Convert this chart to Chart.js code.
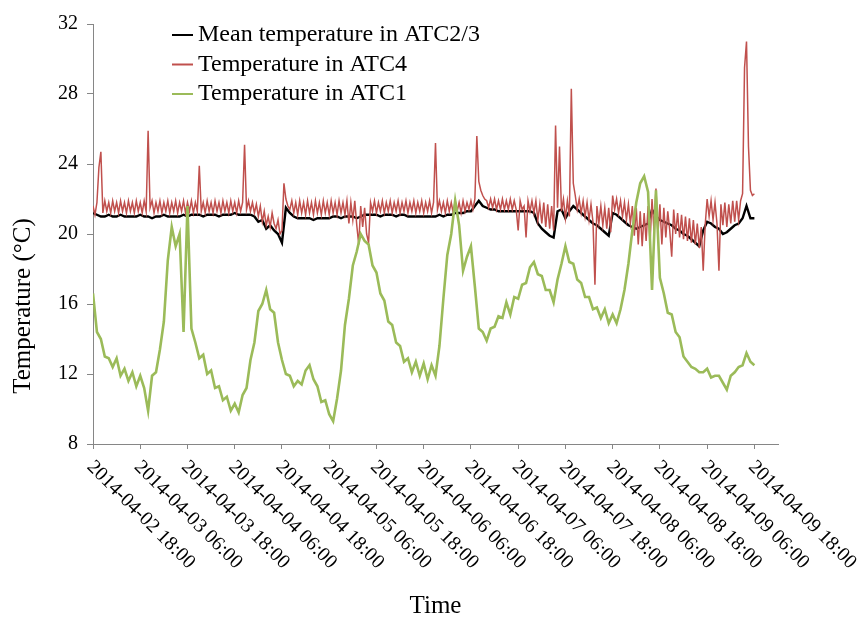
<!DOCTYPE html>
<html>
<head>
<meta charset="utf-8">
<script src="https://cdn.jsdelivr.net/npm/chart.js@4.4.1/dist/chart.umd.min.js"></script>
<style>
html,body{margin:0;padding:0;background:#fff;}
#wrap{width:859px;height:617px;}
</style>
</head>
<body>
<div id="wrap"><canvas id="c" width="859" height="617"></canvas></div>
<script>
// ---------------- data ----------------
const seriesLabels = ['Mean temperature in ATC2/3', 'Temperature in ATC4', 'Temperature in ATC1'];
const seriesColors = ['#000000', '#c0504d', '#9bbb59'];
const xTitle = 'Time';
const yTitle = 'Temperature (\u00B0C)';

const xTickLabels = [
  '2014-04-02 18:00', '2014-04-03 06:00', '2014-04-03 18:00', '2014-04-04 06:00',
  '2014-04-04 18:00', '2014-04-05 06:00', '2014-04-05 18:00', '2014-04-06 06:00',
  '2014-04-06 18:00', '2014-04-07 06:00', '2014-04-07 18:00', '2014-04-08 06:00',
  '2014-04-08 18:00', '2014-04-09 06:00', '2014-04-09 18:00'
];
const tickStepHours = 12;
const axisMaxHours = 174;
const yMin = 8, yMax = 32, yStep = 4;

// Mean temperature in ATC2/3, hourly samples (hours since 2014-04-02 18:00)
const atc23StepHours = 1;
const atc23Temp = [
  21.2, 21.1, 21.0, 21.0, 21.1, 21.0, 21.0, 21.1, 21.0, 21.0,
  21.0, 21.0, 21.1, 21.0, 21.0, 20.9, 21.0, 21.0, 21.1, 21.0,
  21.0, 21.0, 21.0, 21.1, 21.0, 21.1, 21.1, 21.1, 21.0, 21.1,
  21.1, 21.1, 21.0, 21.1, 21.1, 21.1, 21.2, 21.1, 21.1, 21.1,
  21.1, 21.0, 20.7, 20.8, 20.3, 20.5, 20.2, 20.0, 19.5, 21.5,
  21.2, 21.0, 20.9, 20.9, 20.9, 20.9, 20.8, 20.9, 20.9, 20.9,
  20.9, 21.0, 21.0, 20.9, 21.0, 21.0, 21.0, 20.9, 21.0, 21.1,
  21.1, 21.1, 21.1, 21.0, 21.1, 21.1, 21.1, 21.0, 21.1, 21.1,
  21.0, 21.0, 21.0, 21.0, 21.0, 21.0, 21.0, 21.0, 21.1, 21.0,
  21.1, 21.1, 21.2, 21.2, 21.2, 21.3, 21.3, 21.6, 21.9, 21.6,
  21.5, 21.4, 21.4, 21.3, 21.3, 21.3, 21.3, 21.3, 21.3, 21.3,
  21.3, 21.3, 21.2, 20.6, 20.3, 20.1, 19.9, 19.8, 21.3, 21.4,
  20.9, 21.3, 21.6, 21.4, 21.2, 21.0, 20.8, 20.6, 20.5, 20.3,
  20.1, 19.9, 21.2, 21.1, 20.9, 20.7, 20.5, 20.4, 20.3, 20.4,
  20.5, 20.6, 21.4, 21.0, 20.8, 20.7, 20.6, 20.5, 20.3, 20.2,
  20.0, 19.9, 19.7, 19.5, 19.3, 20.2, 20.7, 20.6, 20.4, 20.3,
  20.0, 20.1, 20.3, 20.5, 20.6, 20.9, 21.6, 20.9, 20.9
];

// Temperature in ATC4, half-hourly samples
const atc4StepHours = 0.5;
const atc4Temp = [
  21.6, 21.1, 21.8,  23.8, 24.7, 21.2,  21.9, 21.3, 21.8,  21.2, 21.9, 21.3,
  21.8, 21.2, 21.9,  21.3, 21.8, 21.2,  21.9, 21.3, 21.8,  21.2, 21.9, 21.3,
  21.8, 21.2, 21.9,  21.3, 25.9, 21.5,  21.9, 21.2, 21.8,  21.3, 21.9, 21.2,
  21.8, 21.3, 21.9,  21.2, 21.8, 21.3,  21.9, 21.2, 21.8,  21.3, 21.9, 21.2,
  21.8, 21.3, 21.9,  21.2, 21.8, 21.3,  23.9, 21.3, 21.8,  21.2, 21.9, 21.3,
  21.8, 21.2, 21.9,  21.3, 21.8, 21.2,  21.9, 21.3, 21.8,  21.2, 21.9, 21.3,
  21.8, 21.2, 21.9,  21.3, 21.8, 25.1,  21.4, 21.9, 21.3,  21.8, 21.2, 21.7,
  21.0, 21.6, 20.7,  21.3, 20.5, 21.0,  20.4, 21.2, 20.6,  20.3, 20.8, 20.0,
  20.2, 22.9, 22.0,  21.6, 21.4, 21.9,  21.2, 21.8, 21.1,  21.9, 21.2, 21.8,
  21.1, 21.9, 21.2,  21.8, 21.1, 21.9,  21.2, 21.8, 21.1,  21.9, 21.2, 21.8,
  21.1, 21.9, 21.2,  21.8, 21.1, 21.9,  21.2, 21.8, 21.1,  21.9, 20.6, 21.8,
  20.8, 21.9, 20.5,  19.4, 21.6, 20.4,  21.5, 20.0, 19.5,  21.8, 21.3, 21.9,
  21.2, 21.8, 21.3,  21.9, 21.2, 21.8,  21.3, 21.9, 21.2,  21.8, 21.3, 21.9,
  21.2, 21.8, 21.3,  21.9, 21.2, 21.8,  21.3, 21.9, 21.2,  21.8, 21.3, 21.9,
  21.2, 21.8, 21.3,  21.9, 21.2, 21.8,  25.2, 21.4, 21.9,  21.3, 21.8, 21.2,
  21.9, 21.3, 21.8,  21.2, 21.9, 21.3,  21.8, 21.2, 21.9,  21.3, 21.8, 21.4,
  21.9, 21.4, 22.0,  25.6, 23.0, 22.5,  22.2, 22.0, 21.9,  21.5, 22.0, 21.5,
  22.0, 21.4, 21.9,  21.4, 22.0, 21.4,  21.9, 21.4, 22.0,  21.4, 21.9, 21.4,
  20.2, 21.9, 21.4,  21.6, 19.8, 21.9,  21.3, 21.9, 21.2,  21.9, 20.8, 21.7,
  20.6, 21.8, 20.4,  21.7, 20.3, 21.6,  20.2, 26.2, 21.5,  25.0, 21.3, 22.0,
  20.9, 21.9, 21.0,  28.3, 22.9, 22.2,  21.4, 22.0, 21.2,  21.9, 21.0, 21.8,
  20.8, 21.7, 20.7,  17.1, 21.6, 20.6,  21.6, 20.5, 21.5,  20.3, 21.5, 20.1,
  22.2, 21.4, 22.0,  21.2, 21.9, 21.0,  21.8, 20.8, 21.7,  20.6, 21.6, 19.9,
  21.5, 19.4, 21.3,  19.3, 21.2, 19.6,  21.6, 19.5, 22.0,  20.2, 22.6, 20.0,
  21.7, 19.4, 21.5,  19.8, 21.3, 20.2,  18.7, 21.4, 20.0,  21.2, 19.8, 21.1,
  19.7, 21.0, 19.6,  20.9, 19.5, 20.8,  19.4, 20.6, 19.2,  20.4, 17.9, 20.5,
  22.0, 21.0, 21.9,  20.8, 21.8, 20.6,  17.9, 21.7, 20.5,  21.8, 20.4, 21.7,
  20.6, 21.9, 20.7,  21.9, 20.8, 21.9,  22.3, 29.5, 31.0,  25.0, 22.5, 22.2,
  22.3
];

// Temperature in ATC1, hourly samples (noisy sensor)
const atc1StepHours = 1;
const atc1Temp = [
  16.6, 14.4, 14.0, 13.0, 12.9, 12.4, 12.9, 11.9, 12.3, 11.6,
  12.1, 11.3, 11.9, 11.2, 9.9, 11.9, 12.1, 13.4, 15.0, 18.5,
  20.4, 19.3, 20.0, 14.4, 21.6, 14.6, 13.8, 12.9, 13.1, 12.0,
  12.2, 11.2, 11.3, 10.5, 10.7, 9.9, 10.3, 9.8, 10.8, 11.2,
  12.8, 13.8, 15.6, 16.0, 16.8, 15.7, 15.5, 13.8, 12.8, 12.0,
  11.9, 11.3, 11.6, 11.4, 12.2, 12.5, 11.7, 11.3, 10.4, 10.5,
  9.7, 9.3, 10.6, 12.2, 14.8, 16.3, 18.2, 19.0, 20.0, 19.6,
  19.4, 18.2, 17.8, 16.6, 16.2, 15.0, 14.8, 13.8, 13.6, 12.7,
  12.9, 12.1, 12.7, 11.9, 12.6, 11.7, 12.5, 11.9, 13.6, 16.3,
  18.8, 20.0, 21.9, 20.5, 17.9, 18.7, 19.3, 17.0, 14.6, 14.4,
  13.9, 14.6, 14.7, 15.3, 15.2, 16.1, 15.4, 16.4, 16.3, 17.1,
  17.2, 18.1, 18.4, 17.7, 17.6, 16.8, 16.8, 16.1, 17.4, 18.3,
  19.3, 18.4, 18.3, 17.4, 17.2, 16.4, 16.4, 15.7, 15.8, 15.2,
  15.7, 14.9, 15.4, 14.9, 15.7, 16.8, 18.3, 20.2, 21.8, 22.9,
  23.3, 22.4, 16.8, 22.5, 17.5, 16.6, 15.5, 15.4, 14.4, 14.1,
  13.0, 12.7, 12.4, 12.3, 12.1, 12.1, 12.3, 11.8, 11.9, 11.9,
  11.5, 11.1, 11.9, 12.1, 12.4, 12.5, 13.2, 12.7, 12.5
];

// ---------------- build ----------------
function toPoints(values, step) {
  return values.map((v, i) => ({ x: i * step, y: v }));
}

const FONT = '"Liberation Serif", "Times New Roman", serif';
Chart.defaults.font.family = FONT;
Chart.defaults.color = '#000';

const overlayPlugin = {
  id: 'overlay',
  afterDraw(chart) {
    const { ctx, chartArea, scales } = chart;
    const xs = scales.x;
    ctx.save();
    ctx.fillStyle = '#000';
    // rotated x tick labels
    ctx.font = '20px ' + FONT;
    ctx.textAlign = 'left';
    ctx.textBaseline = 'middle';
    xs.ticks.forEach((t, i) => {
      const px = xs.getPixelForValue(t.value);
      ctx.save();
      ctx.translate(px - 3, chartArea.bottom + 20);
      ctx.rotate(Math.PI / 4);
      ctx.fillText(xTickLabels[i], 0, 0);
      ctx.restore();
    });
    // y axis title
    ctx.save();
    ctx.font = '25px ' + FONT;
    ctx.textAlign = 'center';
    ctx.textBaseline = 'middle';
    ctx.translate(chartArea.left - 70, (chartArea.top + chartArea.bottom) / 2 + 72);
    ctx.rotate(-Math.PI / 2);
    ctx.fillText(yTitle, 0, 0);
    ctx.restore();
    // legend inside plot
    ctx.font = '24px ' + FONT;
    ctx.textAlign = 'left';
    ctx.textBaseline = 'middle';
    seriesLabels.forEach((lab, i) => {
      const y = chartArea.top + 11 + i * 29.5;
      const x0 = chartArea.left + 79;
      ctx.strokeStyle = seriesColors[i];
      ctx.lineWidth = 2;
      ctx.beginPath();
      ctx.moveTo(x0, y);
      ctx.lineTo(x0 + 21, y);
      ctx.stroke();
      ctx.fillStyle = '#000';
      ctx.fillText(lab, x0 + 26, y);
    });
    ctx.restore();
  }
};

const axisGray = '#868686';

new Chart(document.getElementById('c'), {
  type: 'line',
  data: {
    datasets: [
      { label: seriesLabels[0], data: toPoints(atc23Temp, atc23StepHours), borderColor: seriesColors[0], borderWidth: 2.4, order: 3 },
      { label: seriesLabels[1], data: toPoints(atc4Temp, atc4StepHours), borderColor: seriesColors[1], borderWidth: 1.5, order: 2 },
      { label: seriesLabels[2], data: toPoints(atc1Temp, atc1StepHours), borderColor: seriesColors[2], borderWidth: 2.6, order: 1 }
    ]
  },
  options: {
    responsive: false,
    animation: false,
    events: [],
    elements: { point: { radius: 0 }, line: { tension: 0, fill: false } },
    layout: { padding: { left: 0, top: 24, right: 81, bottom: 0 } },
    plugins: { legend: { display: false }, tooltip: { enabled: false } },
    scales: {
      x: {
        type: 'linear',
        min: 0,
        max: axisMaxHours,
        afterBuildTicks(axis) {
          axis.ticks = xTickLabels.map((_, i) => ({ value: i * tickStepHours }));
        },
        afterFit(axis) { axis.height = 173; },
        ticks: { display: false },
        grid: { drawOnChartArea: false, drawTicks: true, tickLength: 5, color: axisGray },
        border: { display: true, color: axisGray, width: 1 },
        title: { display: true, text: xTitle, color: '#000', padding: 0, font: { size: 25, family: FONT, lineHeight: 0.84 } }
      },
      y: {
        min: yMin,
        max: yMax,
        ticks: { stepSize: yStep, color: '#000', padding: 9, font: { size: 20, family: FONT } },
        afterFit(axis) { axis.width = 93; },
        grid: { drawOnChartArea: false, drawTicks: true, tickLength: 6, color: axisGray },
        border: { display: true, color: axisGray, width: 1 }
      }
    }
  },
  plugins: [overlayPlugin]
});
</script>
</body>
</html>
